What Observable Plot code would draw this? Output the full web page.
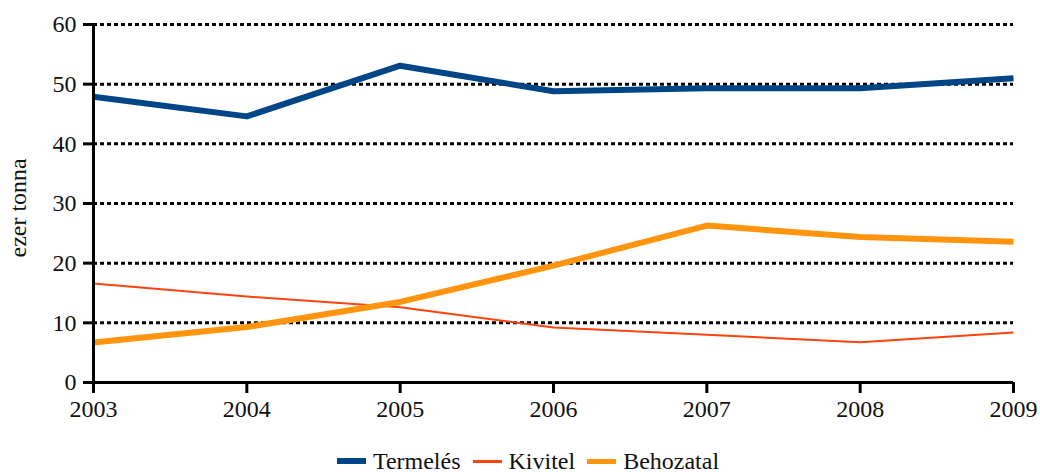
<!DOCTYPE html>
<html>
<head>
<meta charset="utf-8">
<script src="https://cdn.jsdelivr.net/npm/d3@7"></script>
<script src="https://cdn.jsdelivr.net/npm/@observablehq/plot@0.6"></script>
<style>
  body { margin: 0; background: #fff; font-family: "Liberation Serif", serif; }
  #chart svg { display: block; }
  #chart svg, #chart svg text { font-family: "Liberation Serif", serif; font-size: 24px; }
  .legend { display: flex; justify-content: center; align-items: center; height: 40px; margin-top: 16px; font-size: 24px; color: #111; margin-left: 16px; }
  .legend .item { display: flex; align-items: center; margin: 0 6px; }
  .legend .sw { display: inline-block; width: 29px; margin-right: 7px; }
</style>
</head>
<body>
<div id="chart"></div>
<div class="legend" id="legend"></div>
<script>
const years = [2003, 2004, 2005, 2006, 2007, 2008, 2009];
const termeles = [47.9, 44.6, 53.1, 48.8, 49.3, 49.3, 51.0];
const kivitel = [16.6, 14.4, 12.6, 9.2, 8.0, 6.75, 8.4];
const behozatal = [6.7, 9.3, 13.5, 19.6, 26.3, 24.4, 23.6];
const seriesNames = ["Termelés", "Kivitel", "Behozatal"];
const seriesColors = ["#004586", "#ff420e", "#ff950e"];
const seriesWidths = [6, 2, 6];
const legendHeights = [6, 3, 5];
const yTicks = [0, 10, 20, 30, 40, 50, 60];

const seriesValues = [termeles, kivitel, behozatal];
const data = seriesNames.flatMap((name, i) => years.map((y, j) => ({year: y, value: seriesValues[i][j], series: name})));

const drawOrder = [1, 2, 0];
const lineMarks = drawOrder.map(i => Plot.line(data.filter(d => d.series === seriesNames[i]), {
  x: "year", y: "value", stroke: seriesColors[i], strokeWidth: seriesWidths[i],
  strokeLinejoin: "round", strokeLinecap: "butt"
}));

const chart = Plot.plot({
  width: 1040,
  height: 425,
  marginLeft: 93,
  marginRight: 27,
  marginTop: 24,
  marginBottom: 43,
  style: "font-family: 'Liberation Serif', serif; font-size: 24px; color: #111; background: #fff;",
  x: { domain: [2003, 2009] },
  y: { domain: [0, 60] },
  marks: [
    Plot.gridY(yTicks.filter(t => t > 0), { stroke: "#000", strokeOpacity: 1, strokeWidth: 3, strokeDasharray: "4,3" }),
    Plot.axisY(yTicks, { tickSize: 10, tickPadding: 7, tickFormat: d => String(d), stroke: "#000", strokeWidth: 3, fill: "#111", label: null }),
    Plot.axisX(years, { tickSize: 11, tickPadding: 6, tickFormat: d => String(d), stroke: "#000", strokeWidth: 3, fill: "#111", label: null }),
    Plot.text(["ezer tonna"], { frameAnchor: "left", dx: -75, dy: 54, rotate: -90, fill: "#111" }),
    ...lineMarks,
    Plot.ruleX([2003], { stroke: "#000", strokeWidth: 3 }),
    Plot.ruleY([0], { stroke: "#000", strokeWidth: 3 })
  ]
});
document.getElementById("chart").appendChild(chart);

const legend = document.getElementById("legend");
seriesNames.forEach((name, i) => {
  const item = document.createElement("span");
  item.className = "item";
  const sw = document.createElement("span");
  sw.className = "sw";
  sw.style.height = legendHeights[i] + "px";
  sw.style.background = seriesColors[i];
  item.appendChild(sw);
  item.appendChild(document.createTextNode(name));
  legend.appendChild(item);
});
</script>
</body>
</html>
